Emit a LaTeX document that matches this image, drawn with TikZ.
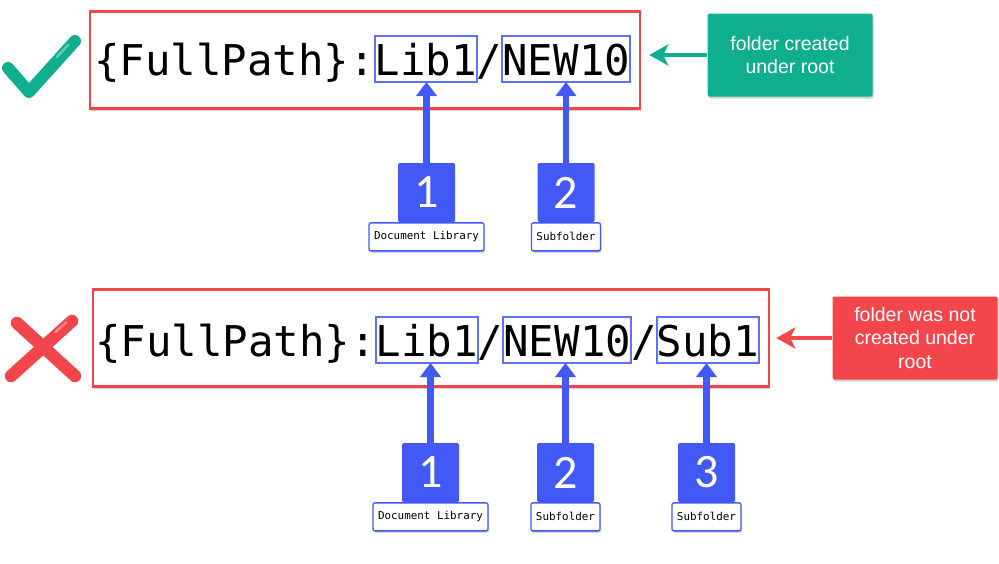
\documentclass[tikz,border=0pt]{standalone}
\usepackage{fontspec}
\setmainfont{Liberation Sans}
\newfontfamily\codefont{DejaVu Sans Mono}
\newfontfamily\numfont{Carlito}
\usetikzlibrary{arrows.meta,positioning,shadows}
\definecolor{okgreen}{HTML}{0FAE8E}
\definecolor{badred}{HTML}{F2464C}
\definecolor{markblue}{HTML}{4359F5}
\tikzset{
  softshadow/.style={drop shadow={shadow xshift=1pt,shadow yshift=-2pt,opacity=0.3,fill=black!60}},
  pathbox/.style={draw=badred,line width=2.5pt,fill=white,minimum height=97pt,softshadow},
  code/.style={inner sep=0pt,outer sep=0pt,anchor=base west,font=\codefont\fontsize{42.4}{50}\selectfont,text height=39pt,text depth=7pt},
  seg/.style={code,draw=markblue!85,line width=2pt},
  numbox/.style={fill=markblue,text=white,minimum width=57pt,minimum height=59pt,inner sep=0pt,font=\numfont\fontsize{48}{50}\selectfont,rounded corners=1.5pt},
  tagbox/.style={draw=markblue,fill=white,line width=1.3pt,rounded corners=2pt,minimum height=28pt,inner xsep=5pt,inner ysep=0pt,font=\codefont\fontsize{10.9}{12}\selectfont,softshadow},
  up/.style={-{Triangle[length=14pt,width=20pt]},markblue,line width=6.5pt},
  note/.style={text=white,minimum width=165pt,minimum height=83pt,align=center,font=\fontsize{19.5}{23.5}\selectfont,rounded corners=1.5pt,softshadow},
  callout/.style={-{Stealth[length=19pt,width=21pt,inset=5pt]},line width=4pt}
}
\begin{document}
\begin{tikzpicture}[x=1pt,y=-1pt]
  \useasboundingbox (0,0) rectangle (999,563);
  % marcas
  \draw[okgreen,line width=12pt,line cap=round,line join=round] (8,68) -- (29,92) -- (75,41);
  \draw[white,opacity=0.35,line width=2.5pt,line cap=round] (57,57) -- (68.5,44.5);
  \draw[badred,line width=12.5pt,line cap=round] (17,323) -- (75,376);
  \draw[badred,line width=12.5pt,line cap=round] (72,321) -- (11,376);
  \draw[white,opacity=0.35,line width=2.5pt,line cap=round] (55.2,332.3) -- (66.2,322.4);
  % ruta correcta
  \node[pathbox,minimum width=550pt] (topBox) at (365,60) {};
  \node[code] (pathA) at (94,75) {\{FullPath\}:};
  \node[seg] (libA) at (pathA.base east) {Lib1};
  \node[code] (slA) at (libA.base east) {/};
  \node[seg] (newA) at (slA.base east) {NEW10};
  \node[numbox] (sqA1) at (426.5,192.5) {1};
  \node[numbox] (sqA2) at (566,192.5) {2};
  \node[tagbox,below=0pt of sqA1] (tagA1) {Document Library};
  \node[tagbox,below=0pt of sqA2] (tagA2) {Subfolder};
  \draw[up] (sqA1.north) -- (sqA1.north |- libA.south);
  \draw[up] (sqA2.north) -- (sqA2.north |- newA.south);
  \node[note,fill=okgreen] (okNote) at (790,55) {folder created\\under root};
  \draw[callout,okgreen,shorten >=8pt] (okNote.west) -- (okNote.west -| topBox.east);
  % ruta incorrecta
  \node[pathbox,minimum width=676pt] (botBox) at (431,338) {};
  \node[code] (pathB) at (95,356) {\{FullPath\}:};
  \node[seg] (libB) at (pathB.base east) {Lib1};
  \node[code] (slB1) at (libB.base east) {/};
  \node[seg] (newB) at (slB1.base east) {NEW10};
  \node[code] (slB2) at (newB.base east) {/};
  \node[seg] (subB) at (slB2.base east) {Sub1};
  \node[numbox] (sqB1) at (430.5,472.5) {1};
  \node[numbox] (sqB2) at (565.5,472.5) {2};
  \node[numbox] (sqB3) at (706.5,472.5) {3};
  \node[tagbox,below=0pt of sqB1] (tagB1) {Document Library};
  \node[tagbox,below=0pt of sqB2] (tagB2) {Subfolder};
  \node[tagbox,below=0pt of sqB3] (tagB3) {Subfolder};
  \draw[up] (sqB1.north) -- (sqB1.north |- libB.south);
  \draw[up] (sqB2.north) -- (sqB2.north |- newB.south);
  \draw[up] (sqB3.north) -- (sqB3.north |- subB.south);
  \node[note,fill=badred] (badNote) at (915,338) {folder was not\\created under\\root};
  \draw[callout,badred,shorten >=6pt] (badNote.west) -- (badNote.west -| botBox.east);
\end{tikzpicture}
\end{document}
